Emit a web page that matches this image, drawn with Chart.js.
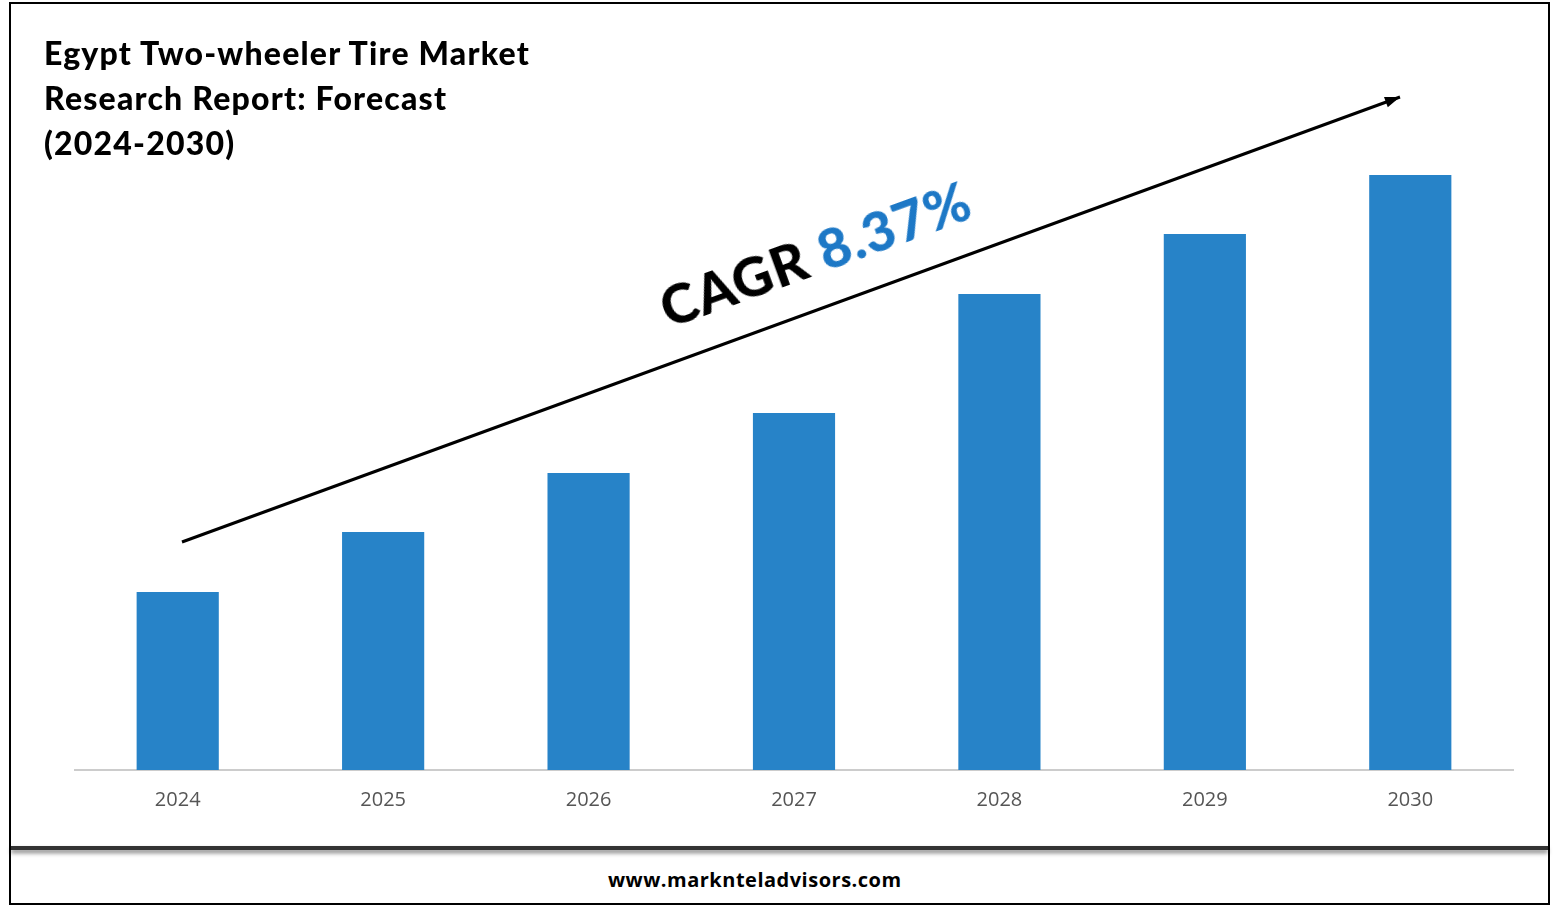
<!DOCTYPE html>
<html><head><meta charset="utf-8">
<script src="https://cdn.jsdelivr.net/npm/chart.js@4"></script>
<style>
body{margin:0;width:1557px;height:909px;background:#fff;position:relative;overflow:hidden;font-family:"Open Sans",sans-serif}
#frame{position:absolute;left:9px;top:2px;width:1537px;height:899px;border:2px solid #000}
#sep{position:absolute;left:11px;top:846px;width:1537px;height:4px;background:#333;box-shadow:0 3px 4px rgba(0,0,0,0.5)}
#title{position:absolute;left:44px;top:30px;font-weight:900;font-size:32px;line-height:45px;color:#000;font-family:"Lato",sans-serif;letter-spacing:1.2px}
#foot{position:absolute;left:608px;top:866px;font-weight:bold;font-size:20px;letter-spacing:0.5px}
#cagr{position:absolute;left:673px;top:274px;font-size:55px;font-weight:900;transform:rotate(-20deg);transform-origin:left bottom;white-space:nowrap;font-family:"Lato",sans-serif;letter-spacing:1px}
#cagr span{color:#1d78c6}
#wrap{position:absolute;left:0;top:0;width:1557px;height:840px}
</style></head><body>
<div id="frame"></div><div id="sep"></div>
<div id="wrap"><canvas id="c"></canvas></div>
<div id="title">Egypt Two-wheeler Tire Market<br>Research Report: Forecast<br>(2024-2030)</div>
<div id="cagr">CAGR <span>8.37%</span></div>
<div id="foot">www.marknteladvisors.com</div>
<script>
const categories=["2024","2025","2026","2027","2028","2029","2030"];
const values=[178,238,297,357,476,536,595];
const arrowPlugin={id:'arrow',afterDraw(ch){const c=ch.ctx;const x1=182,y1=542,x2=1400,y2=97;c.save();c.strokeStyle='#000';c.lineWidth=3;c.beginPath();c.moveTo(x1,y1);c.lineTo(x2,y2);c.stroke();const a=Math.atan2(y2-y1,x2-x1);c.beginPath();c.moveTo(x2,y2);c.lineTo(x2-16*Math.cos(a-0.35),y2-16*Math.sin(a-0.35));c.lineTo(x2-16*Math.cos(a+0.35),y2-16*Math.sin(a+0.35));c.closePath();c.fillStyle='#000';c.fill();c.restore();}};
new Chart(document.getElementById('c'),{type:'bar',data:{labels:categories,datasets:[{data:values,backgroundColor:'#2783c8',barPercentage:0.8,categoryPercentage:0.5}]},
options:{responsive:true,maintainAspectRatio:false,animation:false,layout:{padding:{left:75,right:44,top:70,bottom:18}},
plugins:{legend:{display:false},tooltip:{enabled:false}},
scales:{y:{display:false,min:0,max:700},x:{grid:{display:false},border:{color:'#ccc',width:2},ticks:{color:'#555',font:{size:20,family:'Open Sans'},padding:10}}}},plugins:[arrowPlugin]});
</script></body></html>
